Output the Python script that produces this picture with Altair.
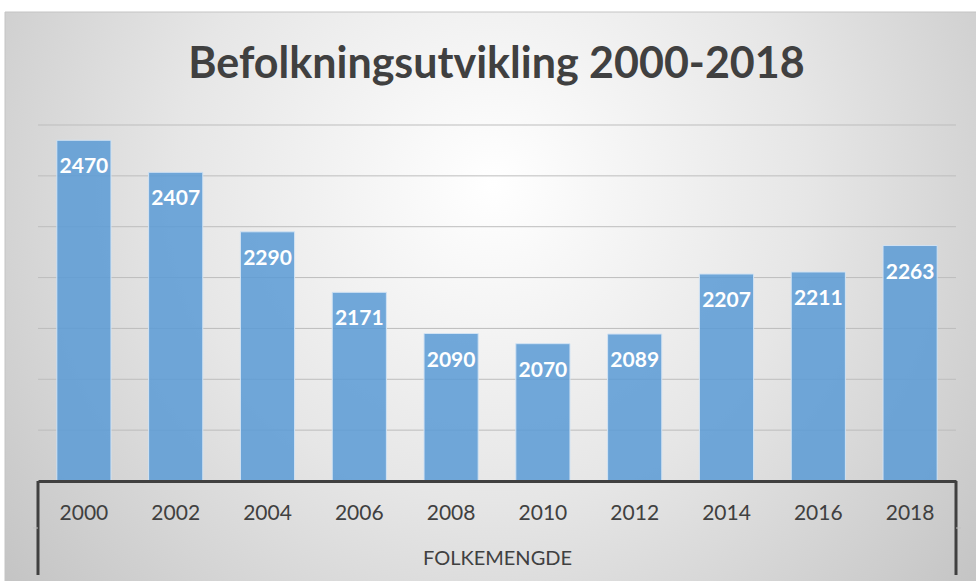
import altair as alt
import pandas as pd

years = ["2000", "2002", "2004", "2006", "2008", "2010", "2012", "2014", "2016", "2018"]
population = [2470, 2407, 2290, 2171, 2090, 2070, 2089, 2207, 2211, 2263]
grid_values = [1900, 2000, 2100, 2200, 2300, 2400, 2500]
title_text = "Befolkningsutvikling 2000-2018"
axis_title = "FOLKEMENGDE"

W, H = 918, 356
df = pd.DataFrame({"year": years, "pop": population})
grid_df = pd.DataFrame({"v": grid_values})
one = pd.DataFrame({"a": [0]})

yscale = alt.Scale(domain=[1800, 2500], nice=False, zero=False)
xscale = alt.Scale(paddingInner=0.41, paddingOuter=0.205)

bg = alt.Chart(one).mark_rect(
    fill=alt.RadialGradient(
        gradient="radial",
        x1=0.5, y1=0.38, r1=0.0,
        x2=0.5, y2=0.38, r2=0.72,
        stops=[
            alt.GradientStop(offset=0, color="#ffffff"),
            alt.GradientStop(offset=0.45, color="#e6e6e6"),
            alt.GradientStop(offset=1, color="#bcbcbc"),
        ],
    ),
    stroke="#c4c4c4",
    strokeWidth=1,
).encode(
    x=alt.value(-33), x2=alt.value(W + 25),
    y=alt.value(-113), y2=alt.value(H + 110),
)

title = alt.Chart(one).mark_text(
    text=title_text, font="Lato", fontSize=43, fontWeight="bold", color="#404040",
    align="center", baseline="alphabetic",
).encode(x=alt.value(W / 2 - 0.5), y=alt.value(-47))

grid = alt.Chart(grid_df).mark_rule(color="#bdbdbd", strokeWidth=1).encode(
    y=alt.Y("v:Q", scale=yscale, axis=None)
)

bars = alt.Chart(df).mark_bar(
    fill="#5b9bd5", fillOpacity=0.86, stroke="#d2e3f3", strokeWidth=1, clip=True
).encode(
    x=alt.X(
        "year:N",
        scale=xscale,
        sort=None,
        axis=alt.Axis(
            title=axis_title,
            labelAngle=0,
            labelFont="Lato",
            labelFontSize=21,
            labelColor="#404040",
            labelBaseline="middle",
            labelPadding=32,
            ticks=False,
            tickSize=0,
            domainColor="#404040",
            domainWidth=3,
            grid=False,
            titleFont="Lato",
            titleFontSize=20,
            titleFontWeight="normal",
            titleColor="#404040",
            titlePadding=25,
            zindex=2,
        ),
    ),
    y=alt.Y("pop:Q", scale=yscale, axis=None),
)

labels = alt.Chart(df).mark_text(
    font="Lato", fontSize=21, fontWeight="bold", color="white",
    baseline="middle", dy=27,
).encode(
    x=alt.X("year:N", scale=xscale, sort=None),
    y=alt.Y("pop:Q", scale=yscale),
    text=alt.Text("pop:Q", format="d"),
)

box_left = alt.Chart(one).mark_rule(color="#404040", strokeWidth=3).encode(
    x=alt.value(0), y=alt.value(H), y2=alt.value(H + 94)
)
box_right = alt.Chart(one).mark_rule(color="#404040", strokeWidth=3).encode(
    x=alt.value(W), y=alt.value(H), y2=alt.value(H + 94)
)
tick_left = alt.Chart(one).mark_rule(color="#bfbfbf", strokeWidth=1).encode(
    x=alt.value(-5), x2=alt.value(0), y=alt.value(H + 47)
)
tick_right = alt.Chart(one).mark_rule(color="#bfbfbf", strokeWidth=1).encode(
    x=alt.value(W), x2=alt.value(W + 5), y=alt.value(H + 47)
)

chart = alt.layer(bg, title, grid, bars, labels, box_left, box_right, tick_left, tick_right).properties(
    width=W,
    height=H,
    autosize=alt.AutoSizeParams(type="none"),
    padding={"left": 38, "top": 125, "right": 20, "bottom": 100},
).configure_view(stroke=None).configure(background="white")

chart.save("out.html", embed_options={"renderer": "svg", "actions": False})
